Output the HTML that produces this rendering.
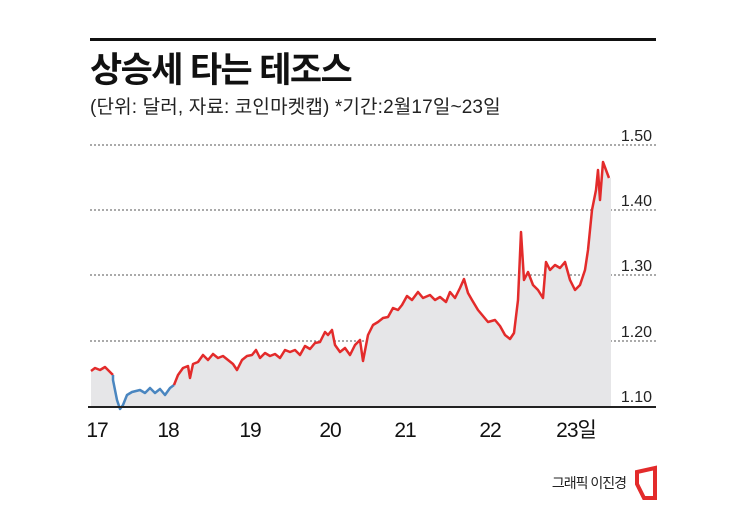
<!DOCTYPE html>
<html><head><meta charset="utf-8"><style>
body{margin:0;background:#fff;width:745px;height:507px;overflow:hidden;font-family:"Liberation Sans","Noto Sans CJK KR",sans-serif}
</style></head><body>
<svg width="745" height="507" xmlns="http://www.w3.org/2000/svg" style="font-family:'Liberation Sans','Noto Sans CJK KR',sans-serif">
<rect x="90" y="38" width="566" height="3" fill="#111"/>
<text x="90" y="82" font-size="35" font-weight="bold" fill="#111" letter-spacing="-1.6">상승세 타는 테조스</text>
<text x="90" y="113" font-size="19" fill="#222" letter-spacing="-0.6" textLength="410">(단위: 달러, 자료: 코인마켓캡)  *기간:2월17일~23일</text>
<g stroke="#555" stroke-dasharray="2,2" stroke-width="1">
<line x1="90" y1="145" x2="656" y2="145"/><line x1="90" y1="210" x2="656" y2="210"/>
<line x1="90" y1="275" x2="656" y2="275"/><line x1="90" y1="341" x2="656" y2="341"/></g>
<g font-size="16" fill="#222" text-anchor="end"><text x="652" y="141">1.50</text><text x="652" y="206">1.40</text><text x="652" y="271">1.30</text><text x="652" y="337">1.20</text><text x="652" y="402">1.10</text></g>
<polygon fill="#e6e6e8" points="91,407 91,371 95,368 100,370 105,367 110,372 113,375 113,380 117,400 120,409 123,405 127,395 132,392 140,390 145,393 150,388 155,393 160,389 165,395 170,388 174,385 178,375 183,368 188,366 190,378 193,364 198,362 203,355 208,360 213,354 218,358 223,356 228,360 233,364 237,370 242,360 247,356 252,355 256,350 260,358 265,353 270,356 275,354 280,358 285,350 290,352 295,350 300,355 305,346 310,349 315,343 320,342 325,332 328,335 332,330 335,345 340,352 345,348 350,355 355,345 360,340 363,361 368,335 373,325 378,322 383,318 388,317 393,308 398,310 402,305 407,296 412,300 418,292 423,298 430,295 435,300 440,297 446,302 450,292 455,298 460,288 464,279 468,293 472,300 478,310 483,316 488,322 495,320 500,326 505,335 510,339 514,333 518,300 521,232 524,280 528,272 533,285 538,290 543,298 546,262 550,270 555,265 560,268 565,262 570,280 575,290 580,285 585,270 588,250 592,210 596,190 598,170 600,200 603,162 606,170 609,178 611,178 611,407"/>
<polyline fill="none" stroke="#e32b2b" stroke-width="2.5" stroke-linejoin="round" points="91,371 95,368 100,370 105,367 110,372 113,375"/>
<polyline fill="none" stroke="#4a86c0" stroke-width="2.5" stroke-linejoin="round" points="113,375 113,380 117,400 120,409 123,405 127,395 132,392 140,390 145,393 150,388 155,393 160,389 165,395 170,388 174,385"/>
<polyline fill="none" stroke="#e32b2b" stroke-width="2.5" stroke-linejoin="round" points="174,385 178,375 183,368 188,366 190,378 193,364 198,362 203,355 208,360 213,354 218,358 223,356 228,360 233,364 237,370 242,360 247,356 252,355 256,350 260,358 265,353 270,356 275,354 280,358 285,350 290,352 295,350 300,355 305,346 310,349 315,343 320,342 325,332 328,335 332,330 335,345 340,352 345,348 350,355 355,345 360,340 363,361 368,335 373,325 378,322 383,318 388,317 393,308 398,310 402,305 407,296 412,300 418,292 423,298 430,295 435,300 440,297 446,302 450,292 455,298 460,288 464,279 468,293 472,300 478,310 483,316 488,322 495,320 500,326 505,335 510,339 514,333 518,300 521,232 524,280 528,272 533,285 538,290 543,298 546,262 550,270 555,265 560,268 565,262 570,280 575,290 580,285 585,270 588,250 592,210 596,190 598,170 600,200 603,162 606,170 609,178"/>
<rect x="88" y="406" width="568" height="2" fill="#222"/>
<g font-size="21" fill="#111" text-anchor="middle" letter-spacing="-1"><text x="97" y="437">17</text><text x="168" y="437">18</text><text x="250" y="437">19</text><text x="330" y="437">20</text><text x="405" y="437">21</text><text x="490" y="437">22</text><text x="576" y="437">23일</text></g>
<text x="626" y="488" font-size="14" fill="#222" text-anchor="end" letter-spacing="-1">그래픽 이진경</text>
<path d="M637,472 L655,468 L655,498 L644,498 L637,484 Z" fill="none" stroke="#e32b2b" stroke-width="4"/>
</svg>
</body></html>
